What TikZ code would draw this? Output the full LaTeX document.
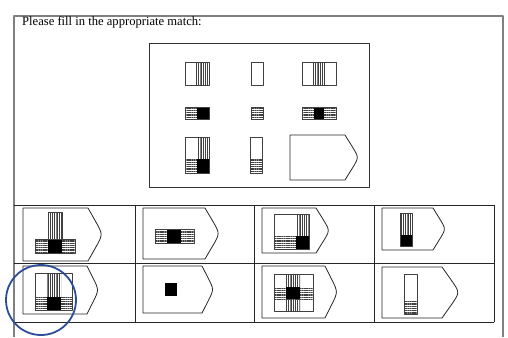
\documentclass[tikz,border=0pt]{standalone}
\usepackage{fontspec}
\setmainfont{Liberation Serif}
\usetikzlibrary{calc,patterns.meta}

\definecolor{ringblue}{RGB}{44,78,150}

% outline of an answer card: left, end of flat top, tip, top, bottom
\newcommand{\cardshape}[5]{%
	\draw[card] (#1,#4) -- (#2,#4)
		-- ($(#2,#4)!0.5!(#3,{(#4+#5)/2})$)
		.. controls (#3,{(#4+#5)/2}) .. ($(#3,{(#4+#5)/2})!0.5!(#2,#5)$)
		-- (#2,#5) -- (#1,#5) -- cycle;}

\tikzset{
	frame/.style={draw=black!50, line width=1.1pt},
	card/.style={draw=black!85, line width=0.8pt},
	piece/.style={draw=black!75, line width=0.7pt},
	vstripes/.style={pattern={Lines[angle=90,distance=1.8pt,line width=0.5pt]}, pattern color=black!75},
	hstripes/.style={pattern={Lines[angle=0,distance=1.8pt,line width=0.5pt]}, pattern color=black!75},
	solidpart/.style={fill=black},
}

\begin{document}
\begin{tikzpicture}[x=1pt,y=-1pt,line join=round]
	\useasboundingbox (0,0) rectangle (508,337);

	% the page frame and the question
	\draw[frame] (14,337) -- (14,16) -- (503,16) -- (503,337);
	\node[anchor=base west, inner sep=0pt, font=\fontsize{12.6}{14}\selectfont] (prompt) at (22,26) {Please fill in the appropriate match:};

	% the question matrix
	\draw[frame, draw=black!80, line width=0.9pt] (149,43) rectangle (369,187);

	% first row
	\fill[vstripes] (196,62) rectangle (209,85);
	\draw[piece] (185,62) rectangle (209,85);
	\draw[piece] (251,62) rectangle (263,85);
	\fill[vstripes] (313,62) rectangle (325,85);
	\draw[piece] (302,62) rectangle (336,85);

	% second row
	\fill[hstripes] (185,107) rectangle (197,119);
	\fill[solidpart] (197,107) rectangle (209,119);
	\draw[piece] (185,107) rectangle (209,119);
	\fill[hstripes] (251,107) rectangle (263,119);
	\draw[piece] (251,107) rectangle (263,119);
	\fill[hstripes] (302,107) rectangle (336,119);
	\fill[solidpart] (314,107) rectangle (324,119);
	\draw[piece] (302,107) rectangle (336,119);

	% third row
	\fill[vstripes] (197,137) rectangle (209,159);
	\fill[hstripes] (185,159) rectangle (197,173);
	\fill[solidpart] (197,159) rectangle (209,173);
	\draw[piece] (185,137) rectangle (209,173);
	\fill[hstripes] (250,159) rectangle (262,173);
	\draw[piece] (250,137) rectangle (262,173);
	\cardshape{290}{345}{359}{135}{180}

	% the answer table
	\draw[card] (14,205) -- (494,205) (14,263) -- (494,263) (14,322) -- (494,322);
	\foreach \x in {135,254,374,494}
		\draw[card] (\x,205) -- (\x,322);

	% answer cards, first row
	\cardshape{23}{88}{103}{208}{261}
	\fill[vstripes] (48,212) rectangle (62,239);
	\fill[hstripes] (35,239) rectangle (75,253);
	\fill[solidpart] (48,239) rectangle (62,253);
	\draw[piece] (48,212) rectangle (62,239) (35,239) rectangle (75,253);

	\cardshape{143}{205}{220}{208}{259}
	\fill[hstripes] (155,229) rectangle (194,243);
	\fill[solidpart] (167,229) rectangle (181,243);
	\draw[piece] (155,229) rectangle (194,243);

	\cardshape{262}{316}{330}{208}{253}
	\fill[vstripes] (296,214) rectangle (309,236);
	\fill[hstripes] (274,236) rectangle (296,249);
	\fill[solidpart] (296,236) rectangle (309,249);
	\draw[piece] (274,214) rectangle (309,249);

	\cardshape{382}{433}{446}{208}{250}
	\fill[vstripes] (400,213) rectangle (412,235);
	\fill[solidpart] (400,235) rectangle (412,246);
	\draw[piece] (400,213) rectangle (412,246);

	% answer cards, second row
	\cardshape{23}{87}{99}{266}{314}
	\fill[vstripes] (47,273) rectangle (61,297);
	\fill[hstripes] (35,297) rectangle (72,310);
	\fill[solidpart] (47,297) rectangle (61,310);
	\draw[piece] (35,273) rectangle (72,310);

	\cardshape{143}{202}{214}{266}{313}
	\fill[solidpart] (165,283) rectangle (177,296);

	\cardshape{262}{325}{338}{266}{318}
	\fill[vstripes] (286,274) rectangle (300,311);
	\fill[hstripes] (274,287) rectangle (313,299);
	\fill[solidpart] (286,287) rectangle (300,299);
	\draw[piece] (274,274) rectangle (313,311);

	\cardshape{382}{442}{460}{267}{318}
	\fill[hstripes] (404,300) rectangle (417,314);
	\draw[piece] (404,274) rectangle (417,314);

	% the chosen answer
	\draw[ringblue, line width=1.8pt] (41,300) circle (35);
\end{tikzpicture}
\end{document}
